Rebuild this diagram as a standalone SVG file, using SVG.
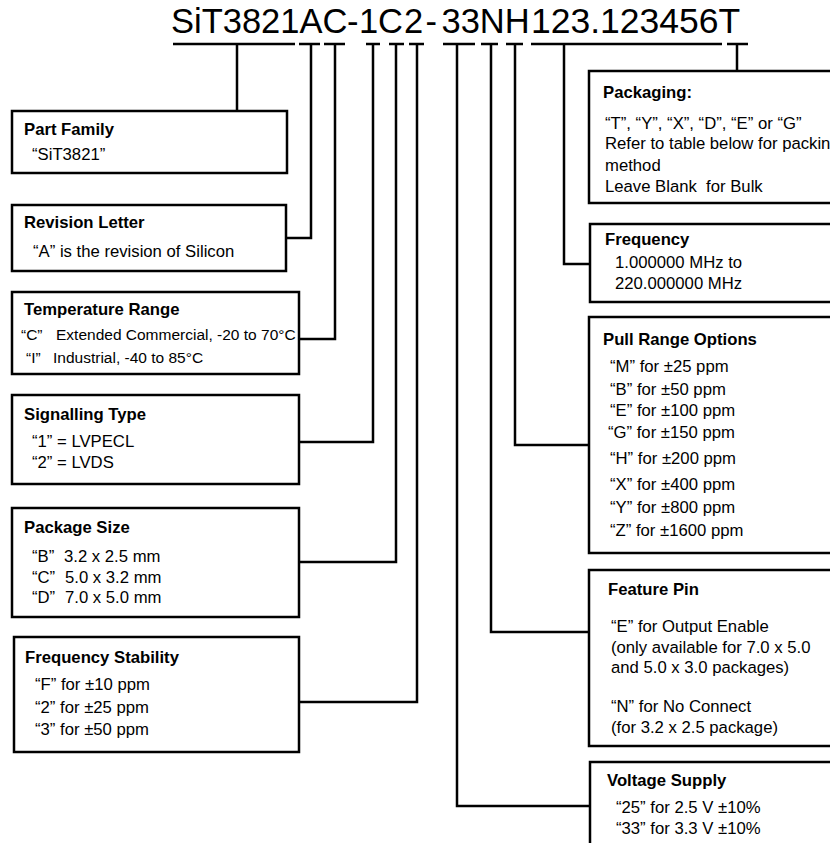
<svg xmlns="http://www.w3.org/2000/svg" width="830" height="843" viewBox="0 0 830 843">
<style>
.bg{fill:#fff}
.box{fill:#fff;stroke:#000;stroke-width:2.5}
.ln{fill:none;stroke:#000;stroke-width:2.5}
text{font-family:"Liberation Sans",Arial,sans-serif;fill:#000}
.t{font-size:34.5px}
.t2{font-size:35.5px}
.h{font-size:16.7px;font-weight:bold}
.b{font-size:16.7px}
.s{font-size:15.5px}
</style>
<rect class="bg" x="0" y="0" width="830" height="843"/>
<g id="title">
<text class="t" x="171" y="33">SiT3821AC</text>
<text class="t" x="347" y="33">-</text>
<text class="t" x="359" y="33">1</text>
<text class="t" x="378" y="33">C</text>
<text class="t" x="404" y="33">2</text>
<text class="t" x="425.5" y="33">-</text>
<text class="t" x="441.5" y="33">33NH</text>
<text class="t2" x="531" y="33">123.123456T</text>
</g>
<g id="connectors">
<path class="ln" d="M173,44H295 M237,44V111"/>
<path class="ln" d="M299,44H320 M311,44V238H286"/>
<path class="ln" d="M324,44H345 M335,44V339H299"/>
<path class="ln" d="M366,44H380 M373,44V442H299"/>
<path class="ln" d="M389,44H404 M396,44V562H299"/>
<path class="ln" d="M409,44H424 M417,44V702H299"/>
<path class="ln" d="M443,44H475 M457,44V806H590"/>
<path class="ln" d="M481,44H498 M491,44V632H589"/>
<path class="ln" d="M506,44H523 M515,44V445H589"/>
<path class="ln" d="M531,44H722 M564,44V264H590"/>
<path class="ln" d="M727,44H748 M737,44V71"/>
</g>
<g id="part-family">
<rect class="box" x="12" y="111" width="275" height="62"/>
<text class="h" x="24" y="135">Part Family</text>
<text class="b" x="32" y="160">“SiT3821”</text>
</g>
<g id="revision-letter">
<rect class="box" x="12" y="205" width="274" height="66"/>
<text class="h" x="24" y="228">Revision Letter</text>
<text class="b" x="33" y="257">“A” is the revision of Silicon</text>
</g>
<g id="temperature-range">
<rect class="box" x="12" y="292" width="287" height="82"/>
<text class="h" x="24" y="315">Temperature Range</text>
<text class="s" x="21" y="340">“C”</text>
<text class="s" x="56" y="340">Extended Commercial, -20 to 70°C</text>
<text class="s" x="26" y="363">“I”</text>
<text class="s" x="53" y="363">Industrial, -40 to 85°C</text>
</g>
<g id="signalling-type">
<rect class="box" x="12" y="395" width="287" height="89"/>
<text class="h" x="24" y="420">Signalling Type</text>
<text class="b" x="32" y="447">“1” = LVPECL</text>
<text class="b" x="32" y="468">“2” = LVDS</text>
</g>
<g id="package-size">
<rect class="box" x="12" y="508" width="287" height="109"/>
<text class="h" x="24" y="533">Package Size</text>
<text class="b" x="32" y="562">“B”</text><text class="b" x="64" y="562">3.2 x 2.5 mm</text>
<text class="b" x="32" y="583">“C”</text><text class="b" x="65" y="583">5.0 x 3.2 mm</text>
<text class="b" x="32" y="603">“D”</text><text class="b" x="65" y="603">7.0 x 5.0 mm</text>
</g>
<g id="frequency-stability">
<rect class="box" x="14" y="637" width="285" height="115"/>
<text class="h" x="25" y="663">Frequency Stability</text>
<text class="b" x="35" y="690">“F” for ±10 ppm</text>
<text class="b" x="35" y="713">“2” for ±25 ppm</text>
<text class="b" x="35" y="735">“3” for ±50 ppm</text>
</g>
<g id="packaging">
<rect class="box" x="589" y="71" width="260" height="132"/>
<text class="h" x="603" y="98">Packaging:</text>
<text class="b" x="605" y="129">“T”, “Y”, “X”, “D”, “E” or “G”</text>
<text class="b" x="605" y="149">Refer to table below for packing</text>
<text class="b" x="605" y="171">method</text>
<text class="b" x="605" y="192">Leave Blank&#160; for Bulk</text>
</g>
<g id="frequency">
<rect class="box" x="590" y="224" width="260" height="78"/>
<text class="h" x="605" y="245">Frequency</text>
<text class="b" x="615" y="268">1.000000 MHz to</text>
<text class="b" x="615" y="289">220.000000 MHz</text>
</g>
<g id="pull-range-options">
<rect class="box" x="589" y="317" width="260" height="236"/>
<text class="h" x="603" y="345">Pull Range Options</text>
<text class="b" x="610" y="372">“M” for ±25 ppm</text>
<text class="b" x="610" y="395">“B” for ±50 ppm</text>
<text class="b" x="610" y="416">“E” for ±100 ppm</text>
<text class="b" x="608" y="438">“G” for ±150 ppm</text>
<text class="b" x="610" y="464">“H” for ±200 ppm</text>
<text class="b" x="610" y="490">“X” for ±400 ppm</text>
<text class="b" x="610" y="513">“Y” for ±800 ppm</text>
<text class="b" x="610" y="536">“Z” for ±1600 ppm</text>
</g>
<g id="feature-pin">
<rect class="box" x="589" y="570" width="260" height="176"/>
<text class="h" x="608" y="595">Feature Pin</text>
<text class="b" x="611" y="632">“E” for Output Enable</text>
<text class="b" x="611" y="653">(only available for 7.0 x 5.0</text>
<text class="b" x="611" y="673">and 5.0 x 3.0 packages)</text>
<text class="b" x="611" y="712">“N” for No Connect</text>
<text class="b" x="611" y="733">(for 3.2 x 2.5 package)</text>
</g>
<g id="voltage-supply">
<rect class="box" x="590" y="762" width="260" height="100"/>
<text class="h" x="607" y="786">Voltage Supply</text>
<text class="b" x="616" y="813">“25” for 2.5 V ±10%</text>
<text class="b" x="616" y="834">“33” for 3.3 V ±10%</text>
</g>
</svg>
